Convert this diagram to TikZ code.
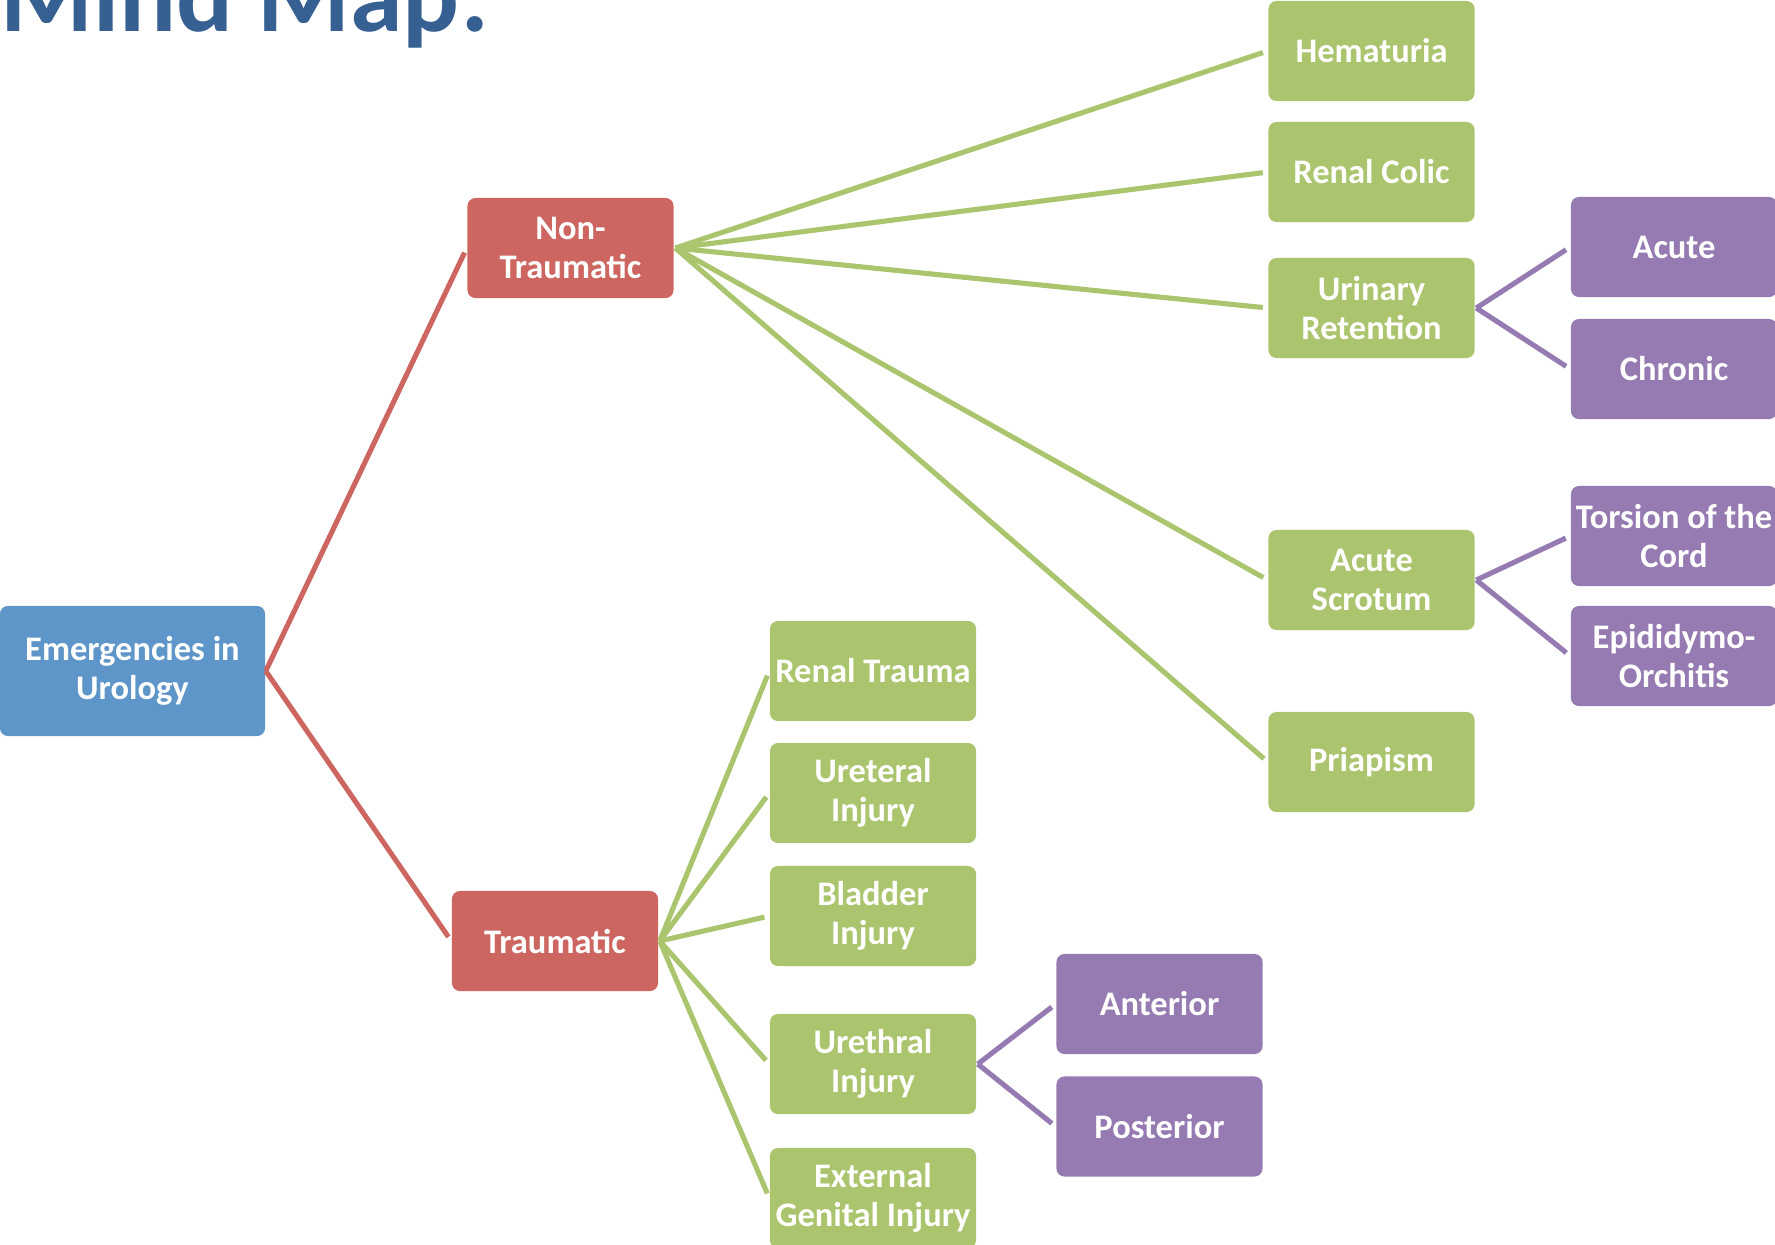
\documentclass[tikz,border=0pt]{standalone}
\usepackage{fontspec}
\setmainfont{Carlito}
\definecolor{cRoot}{HTML}{5F96CA}
\definecolor{cRed}{HTML}{CD6660}
\definecolor{cGreen}{HTML}{ABC46E}
\definecolor{cPurple}{HTML}{957BB2}
\definecolor{cTitle}{HTML}{376092}

\begin{document}
\begin{tikzpicture}[x=0.01cm, y=-0.01cm,
   every node/.style={font=\fontsize{9.8}{11}\selectfont\bfseries, text=white, align=center,
      rounded corners=0.08cm, inner sep=0pt, minimum width=2.06cm, minimum height=1cm},
   rootbox/.style={fill=cRoot, minimum width=2.65cm, minimum height=1.3cm},
   redbox/.style={fill=cRed},
   greenbox/.style={fill=cGreen},
   purplebox/.style={fill=cPurple},
   branch/.style={line width=1.45pt, shorten >=0.05cm}]

\clip (0,0) rectangle (1775,1244);

\node[anchor=base west, text=cTitle, font=\fontsize{30.2}{34}\selectfont\bfseries,
   minimum width=0, minimum height=0] (title) at (0,31) {Mind Map:};

\node[rootbox] (root) at (132.5,671) {Emergencies in\\Urology};

\node[redbox] (nontr) at (570.5,248) {Non-\\Traumatic};
\node[redbox] (trau) at (555,941) {Traumatic};

\node[greenbox] (hem) at (1371.5,51) {Hematuria};
\node[greenbox] (colic) at (1371.5,172) {Renal Colic};
\node[greenbox] (ret) at (1371.5,308) {Urinary\\Retention};
\node[greenbox] (scrot) at (1371.5,580) {Acute\\Scrotum};
\node[greenbox] (pria) at (1371.5,762) {Priapism};

\node[purplebox] (acute) at (1674,247) {Acute};
\node[purplebox] (chron) at (1674,369) {Chronic};
\node[purplebox] (tors) at (1674,536) {Torsion of the\\Cord};
\node[purplebox] (epid) at (1674,656) {Epididymo-\\Orchitis};

\node[greenbox] (renal) at (873,671) {Renal Trauma};
\node[greenbox] (uret) at (873,793) {Ureteral\\Injury};
\node[greenbox] (blad) at (873,916) {Bladder\\Injury};
\node[greenbox] (ureth) at (873,1064) {Urethral\\Injury};
\node[greenbox] (ext) at (873,1198) {External\\Genital Injury};

\node[purplebox] (ant) at (1159.5,1004) {Anterior};
\node[purplebox] (post) at (1159.5,1126.5) {Posterior};

\foreach \n in {nontr,trau}
   \draw[branch, cRed] (root.east) -- (\n.west);
\foreach \n in {hem,colic,ret,scrot,pria}
   \draw[branch, cGreen] ([xshift=0.01cm]nontr.east) -- (\n.west);
\foreach \n in {renal,uret,blad,ureth,ext}
   \draw[branch, cGreen] ([xshift=0.01cm]trau.east) -- (\n.west);

\foreach \a/\b in {ret/acute,ret/chron,scrot/tors,scrot/epid,ureth/ant,ureth/post}
   \draw[branch, cPurple] ([xshift=0.01cm]\a.east) -- (\b.west);
\end{tikzpicture}
\end{document}
